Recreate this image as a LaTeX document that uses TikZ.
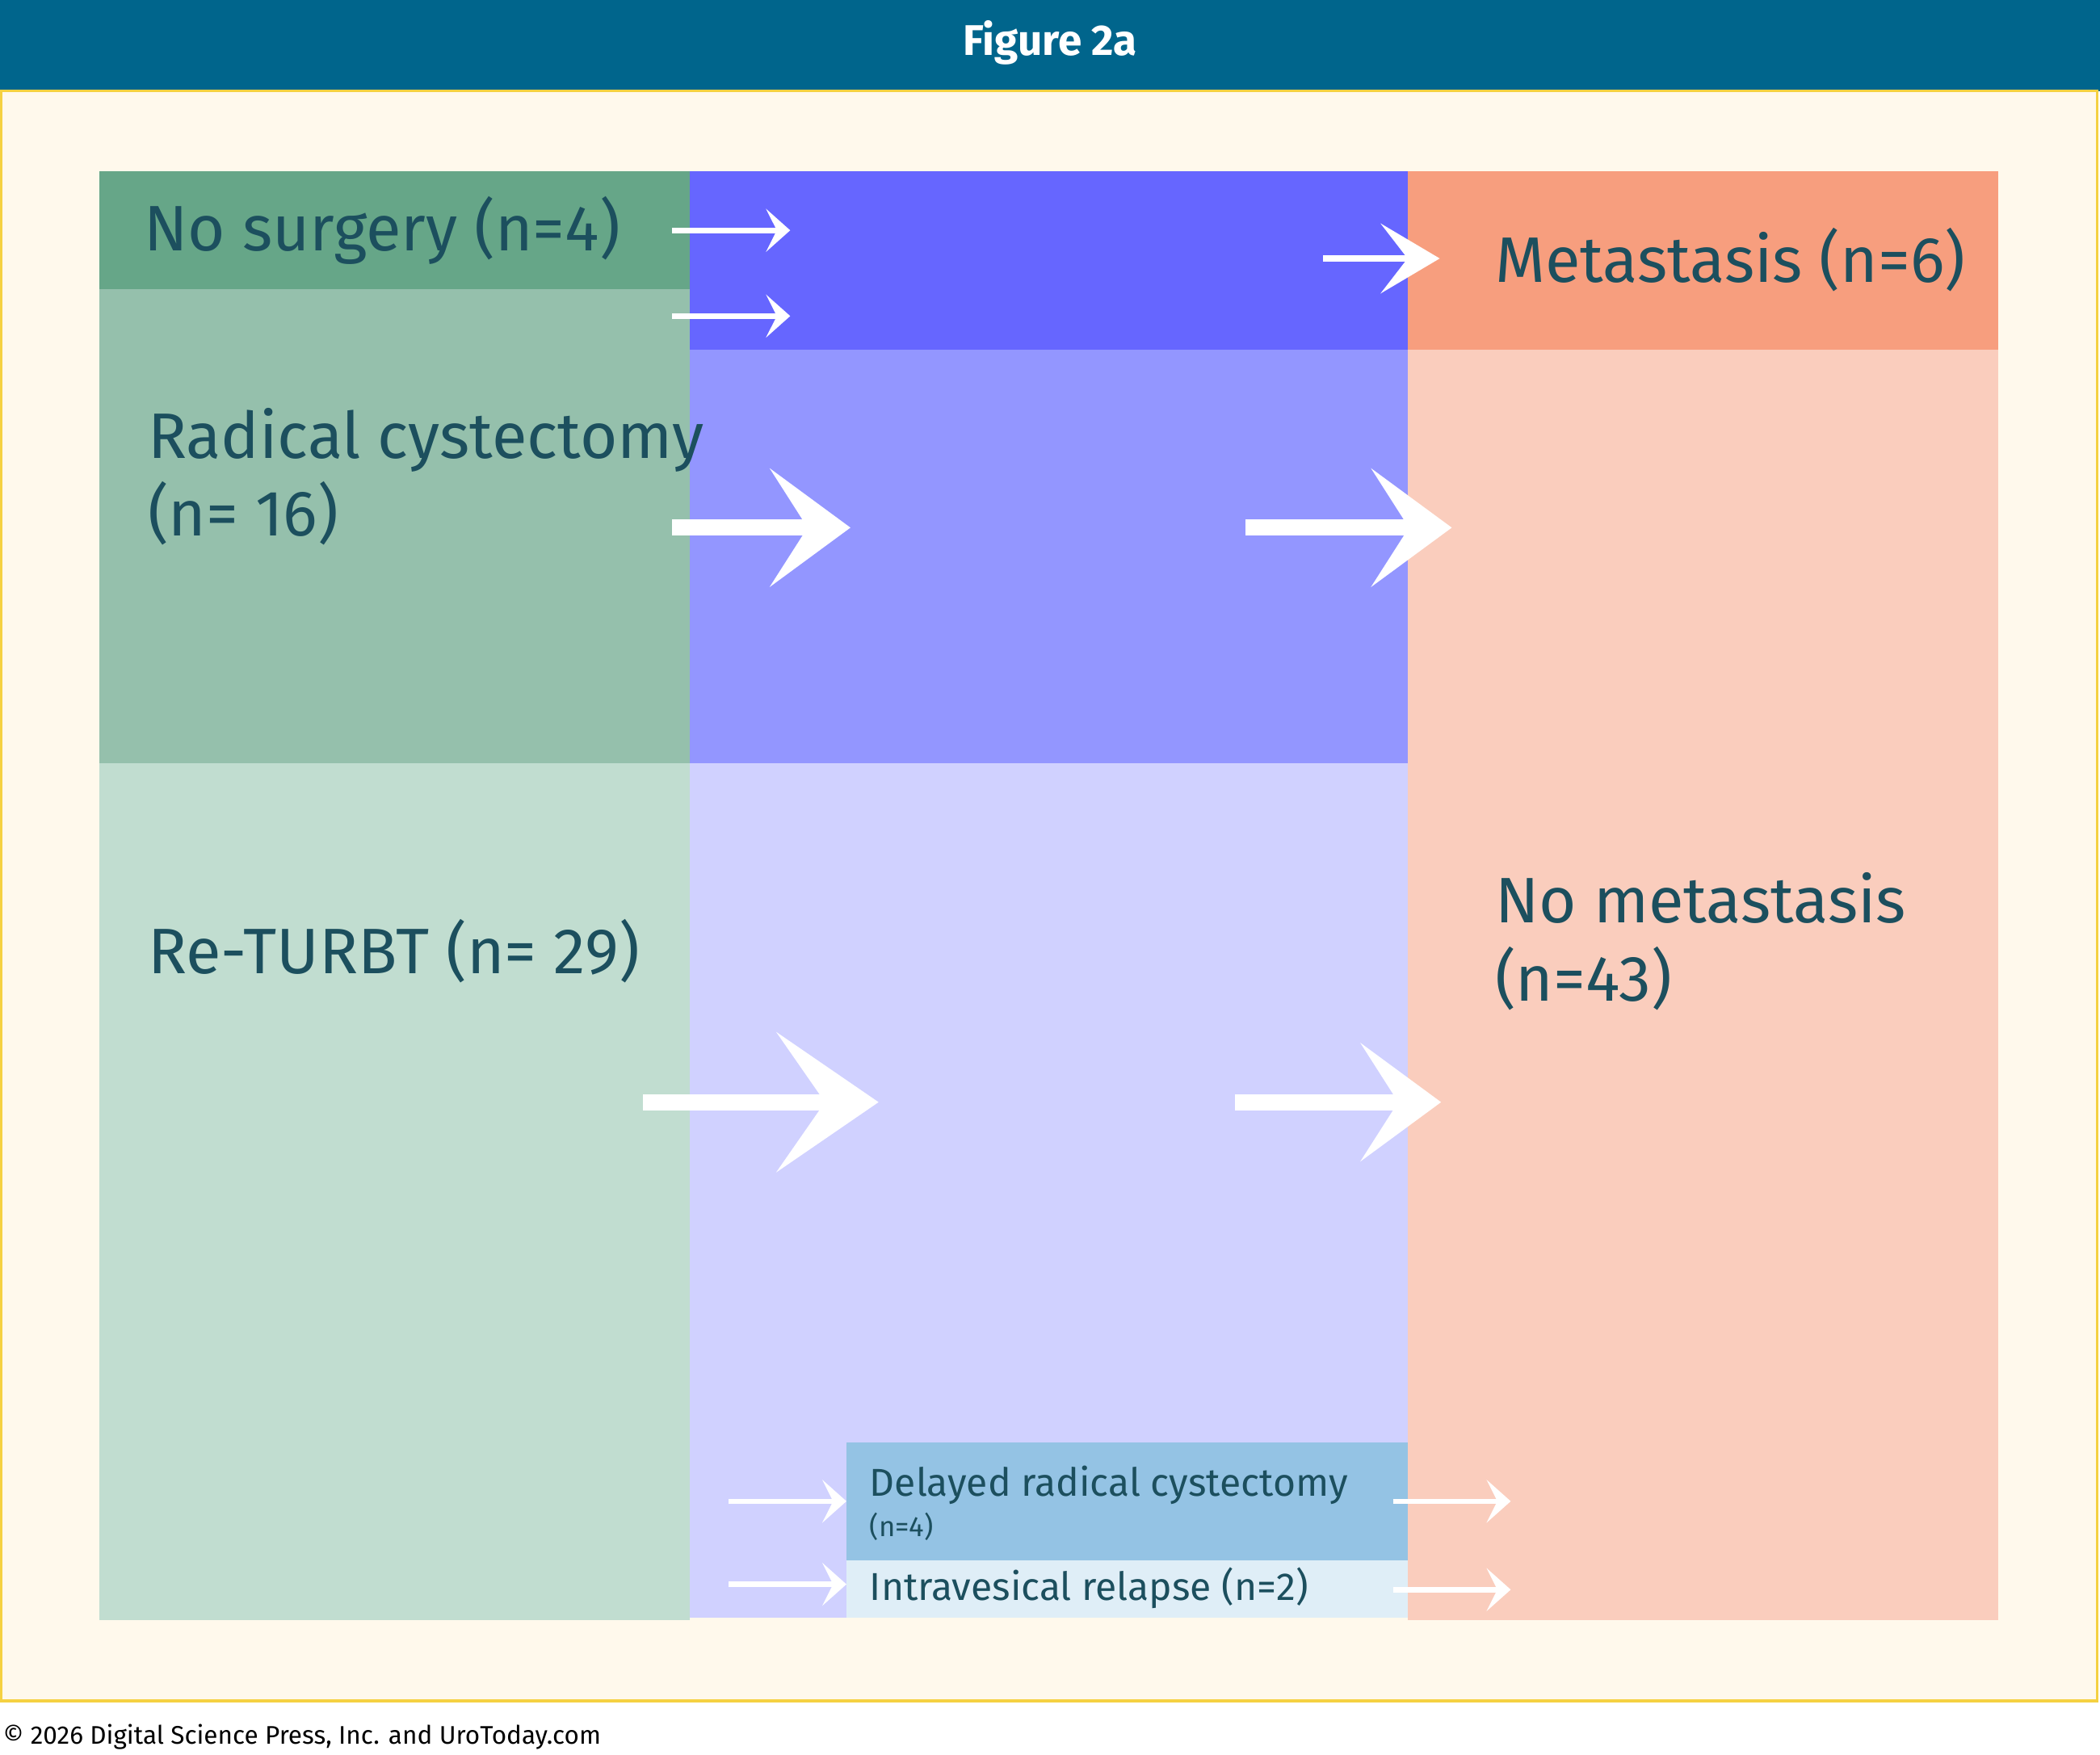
\documentclass[tikz,border=0pt]{standalone}
\usepackage{fontspec}
\setmainfont{Fira Sans}
\usetikzlibrary{arrows.meta}
\definecolor{hdr}{HTML}{00658C}
\definecolor{cream}{HTML}{FFF9EC}
\definecolor{ylw}{HTML}{F5D142}
\definecolor{txt}{HTML}{1C4F5E}
\definecolor{gA}{HTML}{66A688}
\definecolor{gB}{HTML}{95C0AC}
\definecolor{gC}{HTML}{C1DDD0}
\definecolor{bA}{HTML}{6666FF}
\definecolor{bB}{HTML}{9396FF}
\definecolor{bC}{HTML}{D0D1FF}
\definecolor{dA}{HTML}{94C3E4}
\definecolor{dB}{HTML}{DFEEF7}
\definecolor{oA}{HTML}{F79E7E}
\definecolor{oB}{HTML}{FACDBD}
\tikzset{
 lbl/.style={text=txt,anchor=west,inner sep=0pt,font=\fontsize{24}{29}\selectfont,align=left},
 sml/.style={text=txt,anchor=west,inner sep=0pt,font=\fontsize{14.5}{17}\selectfont},
 arS/.style={white,line width=2pt,-{Stealth[length=9pt,width=16pt,inset=4pt]}},
 arM/.style={white,line width=2.5pt,-{Stealth[length=22pt,width=26pt,inset=10pt]}},
 arL/.style={white,line width=6pt,-{Stealth[length=30pt,width=44pt,inset=14pt]}},
 arX/.style={white,line width=6pt,-{Stealth[length=38pt,width=52pt,inset=18pt]}},
}
\begin{document}
\begin{tikzpicture}[x=0.5pt,y=-0.5pt]
\useasboundingbox (0,0) rectangle (1568,1310);
\fill[white] (0,0) rectangle (1568,1310);
\fill[hdr] (0,0) rectangle (1568,68);
\node[white,font=\bfseries\fontsize{16}{19}\selectfont] (title) at (784,32) {Figure 2a};
\draw[ylw,fill=cream,line width=1pt] (1,68) rectangle (1566,1270);
% columns
\fill[gA] (74,128) rectangle (515,216);
\fill[gB] (74,216) rectangle (515,570);
\fill[gC] (74,570) rectangle (515,1210);
\fill[bA] (515,128) rectangle (1051,261);
\fill[bB] (515,261) rectangle (1051,570);
\fill[bC] (515,570) rectangle (1051,1208);
\fill[dA] (632,1077) rectangle (1051,1165);
\fill[dB] (632,1165) rectangle (1051,1208);
\fill[oA] (1051,128) rectangle (1492,261);
\fill[oB] (1051,261) rectangle (1492,1210);
% labels
\node[lbl] (nos) at (107,172) {No surgery (n=4)};
\node[lbl] (rad) at (110,356) {Radical cystectomy\\(n= 16)};
\node[lbl] (ret) at (110,710) {Re-TURBT (n= 29)};
\node[lbl] (met) at (1116,194) {Metastasis (n=6)};
\node[lbl] (nom) at (1116,703) {No metastasis\\(n=43)};
\node[sml] (del) at (649,1109) {Delayed radical cystectomy};
\node[text=txt,anchor=west,inner sep=0pt,font=\fontsize{10.5}{12}\selectfont] (deln) at (649,1140) {(n=4)};
\node[sml] (intra) at (649,1186) {Intravesical relapse (n=2)};
% arrows
\coordinate (a1) at (502,172); \coordinate (b1) at (590,172);
\coordinate (a2) at (502,236); \coordinate (b2) at (590,236);
\coordinate (a3) at (988,193); \coordinate (b3) at (1075,193);
\coordinate (a4) at (502,394); \coordinate (b4) at (635,394);
\coordinate (a5) at (930,394); \coordinate (b5) at (1084,394);
\coordinate (a6) at (480,823); \coordinate (b6) at (656,823);
\coordinate (a7) at (922,823); \coordinate (b7) at (1076,823);
\coordinate (a8) at (544,1121); \coordinate (b8) at (632,1121);
\coordinate (a9) at (544,1183); \coordinate (b9) at (632,1183);
\coordinate (a10) at (1040,1121); \coordinate (b10) at (1128,1121);
\coordinate (a11) at (1040,1187); \coordinate (b11) at (1128,1187);
\draw[arS] (a1) -- (b1);
\draw[arS] (a2) -- (b2);
\draw[arM] (a3) -- (b3);
\draw[arL] (a4) -- (b4);
\draw[arL] (a5) -- (b5);
\draw[arX] (a6) -- (b6);
\draw[arL] (a7) -- (b7);
\draw[arS] (a8) -- (b8);
\draw[arS] (a9) -- (b9);
\draw[arS] (a10) -- (b10);
\draw[arS] (a11) -- (b11);
\node[anchor=west,inner sep=0pt,font=\fontsize{9.5}{11}\selectfont] (copy) at (2,1297) {© 2026 Digital Science Press, Inc. and UroToday.com};
\end{tikzpicture}
\end{document}
